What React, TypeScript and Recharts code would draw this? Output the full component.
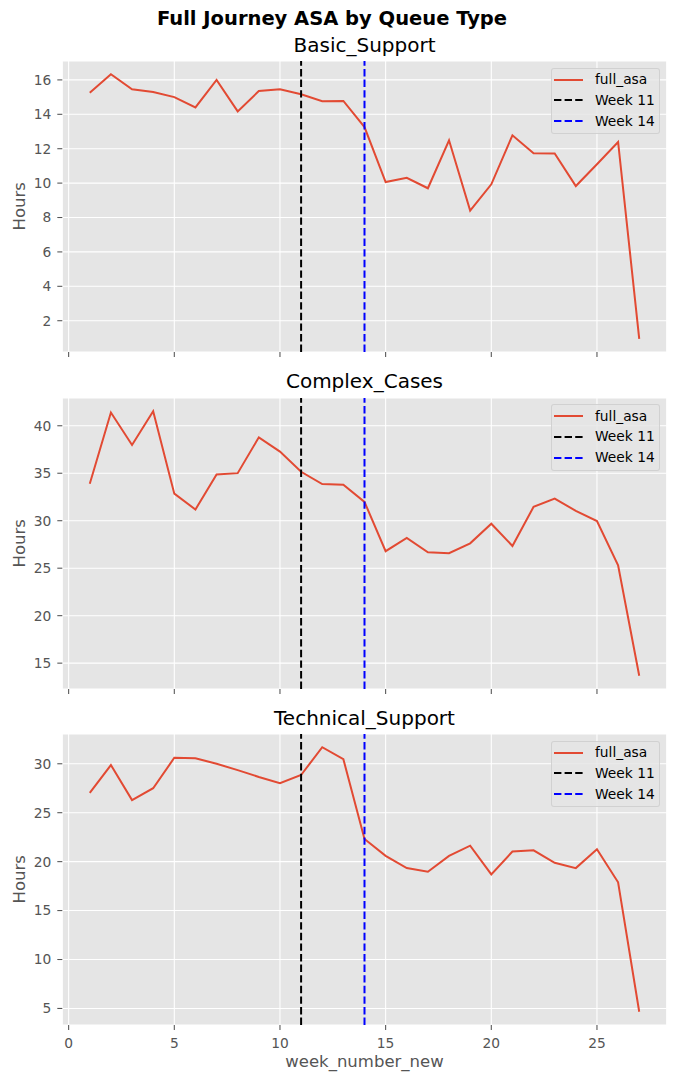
import React from 'react';
import { LineChart, Line, XAxis, YAxis, CartesianGrid, ReferenceLine, Legend } from 'recharts';

const weeks = [1, 2, 3, 4, 5, 6, 7, 8, 9, 10, 11, 12, 13, 14, 15, 16, 17, 18, 19, 20, 21, 22, 23, 24, 25, 26, 27];
const basicSupport = [15.25, 16.33, 15.45, 15.3, 15.0, 14.4, 16.0, 14.17, 15.35, 15.45, 15.17, 14.76, 14.78, 13.26, 10.06, 10.31, 9.7, 12.49, 8.4, 9.93, 12.78, 11.74, 11.72, 9.83, 11.1, 12.39, 0.95];
const complexCases = [33.9, 41.39, 37.98, 41.53, 32.85, 31.18, 34.87, 35.01, 38.78, 37.28, 35.15, 33.86, 33.8, 31.98, 26.79, 28.18, 26.68, 26.58, 27.62, 29.68, 27.34, 31.46, 32.33, 31.04, 29.96, 25.29, 13.67];
const technicalSupport = [27.03, 29.87, 26.29, 27.5, 30.61, 30.57, 30.0, 29.35, 28.65, 28.01, 28.85, 31.69, 30.47, 22.31, 20.59, 19.34, 18.97, 20.59, 21.63, 18.7, 21.03, 21.16, 19.88, 19.34, 21.26, 17.89, 4.66];

const xTicks = [0, 5, 10, 15, 20, 25];
const basicTicks = [2, 4, 6, 8, 10, 12, 14, 16];
const complexTicks = [15, 20, 25, 30, 35, 40];
const technicalTicks = [5, 10, 15, 20, 25, 30];
const markerWeeks = [11, 14];
const markerColors = ['#000000', '#0000FF'];
const legendLabels = ['full_asa', 'Week 11', 'Week 14'];
const panelTitles = ['Basic_Support', 'Complex_Cases', 'Technical_Support'];

const FONT = '"DejaVu Sans", sans-serif';
const LINE_COLOR = '#E24A33';
const PLOT_LEFT = 62.3;
const PLOT_RIGHT = 666.7;
const PLOT_H = 291;
const MT = 40;
const CHART_W = 677;
const TICK_FS = 13.8;
const LEGEND_FS = 13.8;

function LegendBox() {
  const colors = [LINE_COLOR, markerColors[0], markerColors[1]];
  return (
    <div
      style={{
        boxSizing: 'border-box',
        width: 109.3,
        height: 66.6,
        background: 'rgba(229,229,229,0.8)',
        border: '1px solid rgba(204,204,204,0.8)',
        borderRadius: 3,
        paddingTop: 0.5,
        paddingLeft: 2.3,
        fontFamily: FONT,
      }}
    >
      {legendLabels.map((lab, i) => (
        <div key={lab} style={{ display: 'flex', alignItems: 'center', height: 20.8 }}>
          <svg width={29.3} height={4} style={{ marginRight: 11.7, display: 'block' }}>
            <line
              x1={0}
              y1={2}
              x2={29.3}
              y2={2}
              stroke={colors[i]}
              strokeWidth={2}
              strokeDasharray={i === 0 ? undefined : '7.4 3.2'}
            />
          </svg>
          <span style={{ fontSize: LEGEND_FS, color: '#000', lineHeight: '15px', whiteSpace: 'nowrap' }}>{lab}</span>
        </div>
      ))}
    </div>
  );
}

function Panel({ title, values, yTicks, plotTop, bottom }: { title: string; values: number[]; yTicks: number[]; plotTop: number; bottom: boolean }) {
  const data = weeks.map((w, i) => ({ week: w, full_asa: values[i] }));
  const lo = Math.min(...values);
  const hi = Math.max(...values);
  const r = hi - lo;
  const yDomain = [lo - 0.05 * r, hi + 0.05 * r];
  const wSpan = weeks[weeks.length - 1] - weeks[0];
  const xDomain = [weeks[0] - 0.05 * wSpan, weeks[weeks.length - 1] + 0.05 * wSpan];
  const xAxisH = 30;
  const H = MT + PLOT_H + xAxisH;
  const titleFs = 20;
  const ylFs = 16.5;
  return (
    <>
      <div
        style={{
          position: 'absolute',
          left: PLOT_LEFT,
          width: PLOT_RIGHT - PLOT_LEFT,
          top: plotTop - 9.3 - 0.846 * titleFs,
          textAlign: 'center',
          fontSize: titleFs,
          lineHeight: `${titleFs}px`,
          color: '#000',
          fontFamily: FONT,
          whiteSpace: 'nowrap',
        }}
      >
        {title}
      </div>
      <div
        style={{
          position: 'absolute',
          left: 19.5 - 50,
          top: plotTop + PLOT_H / 2 - ylFs / 2,
          width: 100,
          height: ylFs,
          textAlign: 'center',
          fontSize: ylFs,
          lineHeight: `${ylFs}px`,
          color: '#555555',
          fontFamily: FONT,
          transform: 'rotate(-90deg)',
          transformOrigin: '50% 50%',
        }}
      >
        Hours
      </div>
      <div style={{ position: 'absolute', left: 0, top: plotTop - MT }}>
        <LineChart
          width={CHART_W}
          height={H}
          data={data}
          margin={{ top: MT, right: CHART_W - PLOT_RIGHT, bottom: 0, left: 0 }}
          style={{ fontFamily: FONT }}
        >
          <CartesianGrid stroke="#ffffff" strokeWidth={1.07} fill="#E5E5E5" fillOpacity={1} />
          <XAxis
            type="number"
            dataKey="week"
            domain={xDomain}
            ticks={xTicks}
            interval={0}
            allowDataOverflow
            axisLine={false}
            tickLine={{ stroke: '#555555', strokeWidth: 1.07 }}
            tickSize={5}
            tickMargin={8}
            height={xAxisH}
            tick={{ fill: '#555555', fontSize: TICK_FS, fontFamily: FONT }}
            tickFormatter={(v: number) => (bottom ? String(v) : '')}
          />
          <YAxis
            type="number"
            domain={yDomain}
            ticks={yTicks}
            interval={0}
            allowDataOverflow
            axisLine={false}
            tickLine={{ stroke: '#555555', strokeWidth: 1.07 }}
            tickSize={5}
            tickMargin={6}
            width={PLOT_LEFT}
            tick={{ fill: '#555555', fontSize: TICK_FS, fontFamily: FONT }}
          />
          <Line
            type="linear"
            dataKey="full_asa"
            stroke={LINE_COLOR}
            strokeWidth={2}
            dot={false}
            activeDot={false}
            isAnimationActive={false}
          />
          {markerWeeks.map((w, i) => (
            <ReferenceLine key={w} x={w} stroke={markerColors[i]} strokeWidth={2} strokeDasharray="7.4 3.2" />
          ))}
          <Legend
            layout="vertical"
            align="center"
            verticalAlign="middle"
            content={() => <LegendBox />}
            wrapperStyle={{ left: 550.7, top: MT + 6.7, right: 'auto', bottom: 'auto', width: 109.3, height: 66.6 }}
          />
        </LineChart>
      </div>
    </>
  );
}

export default function App() {
  const supFs = 19.5;
  const xlFs = 16.5;
  return (
    <div style={{ position: 'absolute', left: 0, top: 0, width: 677, height: 1083, background: '#fff', fontFamily: FONT }}>
      <div
        style={{
          position: 'absolute',
          left: 0,
          width: 664,
          top: 25.7 - 0.846 * supFs,
          textAlign: 'center',
          fontSize: supFs,
          lineHeight: `${supFs}px`,
          fontWeight: 'bold',
          color: '#000',
          whiteSpace: 'nowrap',
        }}
      >
        Full Journey ASA by Queue Type
      </div>
      <Panel title={panelTitles[0]} values={basicSupport} yTicks={basicTicks} plotTop={61} bottom={false} />
      <Panel title={panelTitles[1]} values={complexCases} yTicks={complexTicks} plotTop={397.5} bottom={false} />
      <Panel title={panelTitles[2]} values={technicalSupport} yTicks={technicalTicks} plotTop={734} bottom={true} />
      <div
        style={{
          position: 'absolute',
          left: PLOT_LEFT,
          width: PLOT_RIGHT - PLOT_LEFT,
          top: 1068.3 - 0.846 * xlFs,
          textAlign: 'center',
          fontSize: xlFs,
          lineHeight: `${xlFs}px`,
          color: '#555555',
          whiteSpace: 'nowrap',
        }}
      >
        week_number_new
      </div>
    </div>
  );
}
